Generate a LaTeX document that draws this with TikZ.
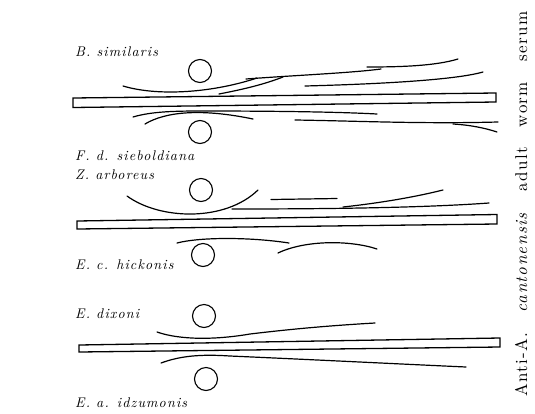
\documentclass[tikz,border=0pt]{standalone}
\usepackage{fontspec}
\setmainfont{lmroman10-regular.otf}[ItalicFont=lmroman10-italic.otf, BoldFont=lmroman10-bold.otf]
\begin{document}
\begin{tikzpicture}[x=1pt, y=-1pt,
  bar/.style={draw, line width=1.3pt, fill=white, line join=miter},
  ring/.style={circle, draw, line width=1.1pt, minimum size=23pt, inner sep=0pt},
  strand/.style={line width=1.2pt, line cap=round},
  species/.style={anchor=base west, inner sep=0pt, font=\fontsize{14}{16}\selectfont\itshape\addfontfeatures{LetterSpace=8}},
  caption/.style={rotate=90, anchor=base west, inner sep=0pt, font=\fontsize{17}{19}\selectfont\addfontfeatures{LetterSpace=8}}
]
  \useasboundingbox (0,0) rectangle (535,413);

  \node[species] (bsim) at (75,56)  {B. similaris};
  \node[species] (fdsi) at (75,160) {F. d. sieboldiana};
  \node[species] (zarb) at (75,179) {Z. arboreus};
  \node[species] (echi) at (75,269) {E. c. hickonis};
  \node[species] (edix) at (75,318) {E. dixoni};
  \node[species] (eaid) at (75,407) {E. a. idzumonis};

  \node[caption] (serum) at (527,397) {\makebox[385pt][s]{Anti-A. \textit{cantonensis} adult worm serum}};

  \node[ring] (topA) at (200,71)  {};
  \node[ring] (botA) at (200,132) {};
  \node[ring] (topB) at (201,190) {};
  \node[ring] (botB) at (203,255) {};
  \node[ring] (topC) at (204,316) {};
  \node[ring] (botC) at (206,379) {};

  \draw[bar] (73,98) -- (496,93) -- (496,102) -- (73,107.5) -- cycle;
  \draw[bar] (77,221) -- (497,214.5) -- (497,224) -- (77,229) -- cycle;
  \draw[bar] (79,345) -- (500,338) -- (500,347) -- (79,352) -- cycle;

  \draw[strand] (123,86) .. controls (160,97) and (215,92) .. (257,78);
  \draw[strand] (246,79) .. controls (300,75) and (350,73) .. (381,69);
  \draw[strand] (367,67) .. controls (400,67) and (435,66) .. (458,59);
  \draw[strand] (219,94) .. controls (245,89) and (265,84) .. (283,77);
  \draw[strand] (305,86) .. controls (380,84) and (455,80) .. (483,72);
  \draw[strand] (133,117) .. controls (150,112) and (170,111) .. (200,111) .. controls (280,111) and (340,112) .. (377,114);
  \draw[strand] (145,124) .. controls (165,112) and (200,108) .. (253,119);
  \draw[strand] (295,120) .. controls (360,121) and (420,124) .. (498,122);
  \draw[strand] (453,124) .. controls (470,125) and (485,128) .. (497,132);

  \draw[strand] (127,196) .. controls (160,220) and (225,222) .. (258,190);
  \draw[strand] (271,199.5) -- (337,198.5);
  \draw[strand] (232,209) .. controls (320,209) and (420,208) .. (489,203);
  \draw[strand] (343,207) .. controls (380,203) and (415,197) .. (443,190);
  \draw[strand] (177,243) .. controls (200,237) and (250,237) .. (289,243);
  \draw[strand] (278,253) .. controls (305,240) and (350,240) .. (377,249);

  \draw[strand] (157,332) .. controls (180,340) and (215,340) .. (250,334) .. controls (300,328) and (340,325) .. (375,323);
  \draw[strand] (161,363) .. controls (180,356) and (200,354) .. (230,356) .. controls (320,360) and (400,364) .. (466,367);
\end{tikzpicture}
\end{document}
